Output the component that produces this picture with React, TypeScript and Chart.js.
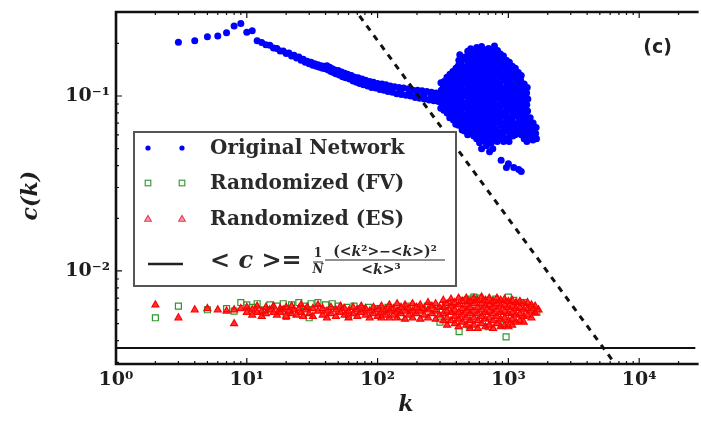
import React, { useEffect, useRef } from 'react';
import { Chart, registerables } from 'chart.js';

Chart.register(...registerables);

// ---------- axis ranges & labels ----------
const X_MIN = 1;
const X_MAX = 27000;
const Y_MIN = 0.00294;
const Y_MAX = 0.302;
const xTickValues = [1, 10, 100, 1000, 10000];
const yTickValues = [0.01, 0.1];
const xTitle = 'k';
const yTitle = 'c(k)  ';
const panelLabel = '(c)';
const legendLabels = ['Original Network', 'Randomized (FV)', 'Randomized (ES)'];

// ---------- reference lines ----------
const meanClustering = 0.00363;
const meanLineK = [1, 27000];
const guideK = [50, 8000];
const guideC = [0.42, 0.0024];

// ---------- Original network c(k) ----------
const originalLowK: [number, number][] = [
  [3, 0.203], [4, 0.207], [5, 0.218], [6, 0.220], [7, 0.230], [8, 0.251], [9, 0.260], [10, 0.231], [11, 0.236], [12, 0.207],
  [13, 0.202], [14, 0.196], [15, 0.195], [16, 0.188], [17, 0.187], [18, 0.181], [19, 0.181], [20, 0.175], [21, 0.176],
  [22, 0.169], [23, 0.171], [24, 0.165], [25, 0.167], [26, 0.160], [27, 0.162], [28, 0.156], [29, 0.158], [30, 0.153],
  [31, 0.156], [32, 0.150], [33, 0.153], [34, 0.148], [35, 0.151], [36, 0.146], [37, 0.149], [38, 0.144], [39, 0.148],
  [40, 0.143], [41, 0.149], [42, 0.141], [43, 0.146], [44, 0.138], [45, 0.143], [46, 0.136], [47, 0.141], [48, 0.134],
  [50, 0.140], [51, 0.132], [53, 0.137], [54, 0.129], [56, 0.135], [57, 0.127], [59, 0.133], [61, 0.125], [63, 0.131],
  [65, 0.122], [67, 0.128], [69, 0.120], [71, 0.127], [73, 0.118], [76, 0.125], [78, 0.116], [81, 0.123], [84, 0.114],
  [87, 0.121], [90, 0.112], [93, 0.120], [97, 0.111], [100, 0.118], [60, 0.129], [70, 0.123], [80, 0.119], [90, 0.116],
  [104, 0.109], [108, 0.117], [112, 0.108], [116, 0.116], [120, 0.106], [125, 0.114], [130, 0.105], [135, 0.113],
  [140, 0.103], [146, 0.112], [152, 0.102], [158, 0.111], [165, 0.101], [172, 0.110], [179, 0.100], [186, 0.108],
  [194, 0.098], [202, 0.108], [210, 0.097], [219, 0.107], [228, 0.096], [238, 0.106], [248, 0.095], [258, 0.105],
  [269, 0.094], [280, 0.104], [292, 0.093], [300, 0.103], [110, 0.112], [128, 0.109], [150, 0.106], [175, 0.104],
  [200, 0.102], [225, 0.101], [255, 0.100], [285, 0.098],
];

const originalHighK: [number, number][] = [
  [305, 0.119], [307, 0.108], [303, 0.099], [306, 0.092], [304, 0.085],
  [339, 0.128], [336, 0.116], [341, 0.110], [338, 0.100], [342, 0.093], [337, 0.086], [340, 0.080],
  [376, 0.138], [372, 0.126], [379, 0.118], [374, 0.107], [378, 0.101], [373, 0.092], [377, 0.085], [375, 0.079], [380, 0.073],
  [425, 0.172], [418, 0.160], [414, 0.149], [420, 0.136], [416, 0.128], [422, 0.116], [417, 0.109], [419, 0.099], [415, 0.093],
  [421, 0.084], [418, 0.079], [423, 0.072], [416, 0.068],
  [464, 0.162], [460, 0.147], [467, 0.138], [462, 0.126], [468, 0.118], [459, 0.107], [465, 0.101], [461, 0.091], [466, 0.086],
  [463, 0.078], [469, 0.073], [460, 0.067], [464, 0.063],
  [515, 0.186], [511, 0.175], [518, 0.160], [513, 0.150], [519, 0.136], [510, 0.128], [516, 0.116], [512, 0.109], [517, 0.099],
  [514, 0.093], [520, 0.085], [511, 0.079], [515, 0.072], [518, 0.068], [513, 0.061],
  [572, 0.189], [566, 0.173], [575, 0.162], [569, 0.147], [577, 0.138], [568, 0.125], [574, 0.118], [570, 0.107], [576, 0.101],
  [567, 0.091], [573, 0.086], [571, 0.078], [578, 0.073], [569, 0.066], [574, 0.062], [572, 0.057],
  [624, 0.192], [635, 0.176], [630, 0.160], [640, 0.149], [632, 0.136], [638, 0.127], [629, 0.116], [636, 0.109], [641, 0.099],
  [633, 0.092], [628, 0.084], [639, 0.080], [634, 0.072], [631, 0.068], [637, 0.061], [630, 0.058], [624, 0.050],
  [705, 0.187], [698, 0.173], [710, 0.162], [702, 0.148], [712, 0.138], [699, 0.126], [707, 0.117], [703, 0.107], [711, 0.100],
  [700, 0.093], [708, 0.085], [704, 0.078], [713, 0.073], [701, 0.067], [709, 0.063], [706, 0.056], [718, 0.048],
  [783, 0.193], [776, 0.175], [789, 0.160], [780, 0.150], [791, 0.137], [778, 0.127], [786, 0.118], [781, 0.108], [788, 0.099],
  [777, 0.092], [785, 0.086], [782, 0.079], [790, 0.072], [779, 0.067], [787, 0.062], [784, 0.057],
  [869, 0.174], [861, 0.162], [875, 0.148], [865, 0.136], [878, 0.128], [863, 0.117], [872, 0.107], [867, 0.100], [876, 0.093],
  [862, 0.085], [871, 0.078], [866, 0.073], [874, 0.068], [864, 0.062], [870, 0.058],
  [966, 0.160], [958, 0.149], [972, 0.137], [961, 0.126], [975, 0.118], [960, 0.108], [969, 0.099], [963, 0.092], [973, 0.086],
  [959, 0.079], [968, 0.072], [964, 0.067], [971, 0.063], [962, 0.057],
  [1072, 0.148], [1064, 0.137], [1080, 0.127], [1068, 0.116], [1083, 0.109], [1066, 0.100], [1077, 0.093], [1070, 0.085],
  [1081, 0.079], [1065, 0.073], [1075, 0.067], [1069, 0.062], [1079, 0.059],
  [1191, 0.136], [1180, 0.126], [1198, 0.117], [1185, 0.107], [1202, 0.100], [1183, 0.092], [1195, 0.085], [1188, 0.078],
  [1200, 0.072], [1182, 0.068], [1193, 0.061],
  [1322, 0.117], [1310, 0.108], [1330, 0.099], [1315, 0.093], [1334, 0.084], [1312, 0.079], [1326, 0.072], [1318, 0.066],
  [1329, 0.062], [1320, 0.057],
  [1468, 0.075], [1455, 0.068], [1476, 0.062], [1460, 0.058],
  [1630, 0.066], [1615, 0.061], [1640, 0.057],
  [880, 0.043], [966, 0.039], [1000, 0.041], [1100, 0.039], [1200, 0.038], [1254, 0.037], [760, 0.050], [680, 0.052],
  // interleaved cloud
  [322, 0.121], [318, 0.113], [326, 0.103], [320, 0.097], [324, 0.088], [321, 0.083],
  [357, 0.133], [352, 0.121], [361, 0.113], [355, 0.103], [359, 0.097], [354, 0.088], [360, 0.083], [356, 0.075],
  [397, 0.144], [391, 0.131], [402, 0.123], [394, 0.111], [400, 0.105], [393, 0.095], [399, 0.090], [395, 0.081],
  [401, 0.077], [396, 0.069],
  [440, 0.167], [434, 0.156], [446, 0.142], [437, 0.133], [444, 0.121], [436, 0.113], [442, 0.103], [438, 0.097],
  [445, 0.088], [435, 0.083], [441, 0.075], [439, 0.071], [443, 0.064],
  [489, 0.180], [483, 0.169], [494, 0.154], [486, 0.144], [492, 0.131], [481, 0.123], [490, 0.111], [485, 0.105],
  [495, 0.096], [484, 0.089], [491, 0.081], [487, 0.077], [493, 0.069], [482, 0.065], [488, 0.060],
  [543, 0.182], [537, 0.167], [549, 0.156], [540, 0.142], [547, 0.133], [535, 0.121], [545, 0.113], [539, 0.103],
  [550, 0.097], [536, 0.088], [546, 0.083], [541, 0.075], [548, 0.071], [538, 0.064], [544, 0.059],
  [603, 0.180], [596, 0.169], [610, 0.154], [599, 0.144], [607, 0.131], [595, 0.123], [605, 0.111], [600, 0.105],
  [611, 0.096], [597, 0.089], [606, 0.081], [601, 0.077], [609, 0.069], [598, 0.065], [604, 0.060], [602, 0.054],
  [669, 0.183], [661, 0.167], [676, 0.156], [665, 0.142], [673, 0.133], [660, 0.121], [671, 0.113], [666, 0.103],
  [678, 0.097], [662, 0.088], [672, 0.083], [667, 0.075], [675, 0.071], [663, 0.064], [670, 0.059], [668, 0.055],
  [743, 0.180], [734, 0.169], [751, 0.154], [738, 0.144], [748, 0.131], [733, 0.123], [745, 0.111], [740, 0.105],
  [752, 0.096], [736, 0.089], [746, 0.081], [741, 0.077], [749, 0.069], [735, 0.065], [744, 0.060], [739, 0.054],
  [826, 0.182], [817, 0.167], [835, 0.156], [821, 0.142], [832, 0.133], [815, 0.121], [829, 0.113], [823, 0.103],
  [836, 0.097], [818, 0.088], [830, 0.083], [824, 0.075], [833, 0.071], [816, 0.064], [827, 0.059], [822, 0.055],
  [917, 0.169], [906, 0.154], [927, 0.144], [911, 0.131], [923, 0.123], [904, 0.111], [920, 0.105], [913, 0.096],
  [928, 0.089], [907, 0.081], [921, 0.077], [914, 0.069], [925, 0.065], [909, 0.060], [918, 0.055],
  [1018, 0.156], [1006, 0.142], [1030, 0.133], [1010, 0.121], [1026, 0.113], [1004, 0.103], [1022, 0.097], [1013, 0.088],
  [1028, 0.083], [1008, 0.075], [1024, 0.071], [1015, 0.064], [1027, 0.059], [1011, 0.055],
  [1130, 0.144], [1117, 0.131], [1143, 0.123], [1122, 0.111], [1139, 0.105], [1119, 0.096], [1135, 0.089], [1125, 0.081],
  [1141, 0.077], [1120, 0.069], [1133, 0.065], [1127, 0.060],
  [1254, 0.131], [1240, 0.123], [1268, 0.111], [1245, 0.105], [1262, 0.096], [1242, 0.089], [1258, 0.081], [1248, 0.077],
  [1265, 0.069], [1244, 0.065], [1256, 0.060],
  [1393, 0.112], [1378, 0.104], [1408, 0.096], [1383, 0.089], [1402, 0.082], [1380, 0.076], [1398, 0.070], [1388, 0.065],
  [1405, 0.060], [1385, 0.055],
  [1546, 0.070], [1530, 0.065], [1560, 0.060], [1538, 0.056],
];

// ---------- Randomized (FV) ----------
const randomizedFV: [number, number][] = [
  [2, 0.0054], [3, 0.0063], [5, 0.0060], [7, 0.0061], [8, 0.0059], [9, 0.0066], [10, 0.0064], [11, 0.0062], [12, 0.0065],
  [14, 0.0060], [15, 0.0064], [17, 0.0063], [19, 0.0065], [22, 0.0064], [25, 0.0066], [28, 0.0063], [31, 0.0065], [35, 0.0066],
  [40, 0.0064], [45, 0.0065], [50, 0.0063], [58, 0.0062], [66, 0.0063], [75, 0.0061], [85, 0.0062], [100, 0.0061],
  [120, 0.0062], [140, 0.0061], [170, 0.0063], [200, 0.0062], [240, 0.0063], [280, 0.0061], [330, 0.0064], [380, 0.0066],
  [420, 0.0045], [460, 0.0068], [520, 0.0069], [545, 0.0071], [600, 0.0070], [700, 0.0068], [800, 0.0069], [960, 0.0042],
  [1000, 0.0071], [1100, 0.0068], [1300, 0.0066], [1500, 0.0062], [1650, 0.0058], [20, 0.0055], [30, 0.0054], [60, 0.0055],
  [150, 0.0055], [300, 0.0051], [500, 0.0049], [700, 0.0048], [900, 0.0049],
];

// ---------- Randomized (ES) ----------
const randomizedES: [number, number][] = [
  [2, 0.0064], [3, 0.0054], [4, 0.0060], [5, 0.0061], [6, 0.0060], [7, 0.0059], [8, 0.0050], [8, 0.0060], [9, 0.0061],
  [10, 0.0058], [10, 0.0062], [11, 0.0060], [11, 0.0056], [12, 0.0063], [12, 0.0058], [13, 0.0059], [13, 0.0055],
  [14, 0.0062], [14, 0.0057], [15, 0.0060], [16, 0.0058], [16, 0.0063], [17, 0.0056], [18, 0.0061], [18, 0.0058],
  [19, 0.0060], [20, 0.0055], [20, 0.0062], [21, 0.0059], [22, 0.0057], [22, 0.0063], [23, 0.0060], [24, 0.0056],
  [25, 0.0061], [26, 0.0058], [26, 0.0064], [27, 0.0055], [28, 0.0060], [29, 0.0062], [30, 0.0057],
  [32, 0.0061], [32, 0.0055], [35, 0.0059], [35, 0.0064], [38, 0.0056], [38, 0.0061], [41, 0.0059], [41, 0.0054],
  [44, 0.0062], [44, 0.0057], [48, 0.0060], [48, 0.0055], [52, 0.0063], [52, 0.0058], [56, 0.0056], [56, 0.0061],
  [60, 0.0059], [60, 0.0054], [65, 0.0062], [65, 0.0057], [70, 0.0060], [70, 0.0055], [75, 0.0063], [75, 0.0058],
  [81, 0.0056], [81, 0.0061], [87, 0.0059], [87, 0.0054], [93, 0.0062], [93, 0.0057], [100, 0.0060], [100, 0.0055],
  [107, 0.0063], [107, 0.0058], [107, 0.0054], [115, 0.0060], [115, 0.0056], [123, 0.0064], [123, 0.0059], [123, 0.0054],
  [132, 0.0061], [132, 0.0056], [141, 0.0065], [141, 0.0059], [141, 0.0054], [151, 0.0062], [151, 0.0057],
  [162, 0.0064], [162, 0.0059], [162, 0.0053], [173, 0.0061], [173, 0.0056], [185, 0.0065], [185, 0.0059], [185, 0.0054],
  [198, 0.0062], [198, 0.0057], [212, 0.0064], [212, 0.0059], [212, 0.0053], [227, 0.0061], [227, 0.0056],
  [243, 0.0066], [243, 0.0060], [243, 0.0054], [260, 0.0063], [260, 0.0057], [278, 0.0065], [278, 0.0059], [278, 0.0053],
  [297, 0.0062], [297, 0.0056],
  [318, 0.0068], [318, 0.0062], [318, 0.0057], [318, 0.0052],
  [340, 0.0065], [340, 0.0059], [340, 0.0054], [340, 0.0049],
  [364, 0.0069], [364, 0.0063], [364, 0.0058], [364, 0.0052],
  [389, 0.0066], [389, 0.0060], [389, 0.0055], [389, 0.0050],
  [416, 0.0070], [416, 0.0064], [416, 0.0058], [416, 0.0053], [416, 0.0048],
  [445, 0.0067], [445, 0.0061], [445, 0.0056], [445, 0.0051],
  [476, 0.0070], [476, 0.0064], [476, 0.0059], [476, 0.0054], [476, 0.0049],
  [509, 0.0067], [509, 0.0062], [509, 0.0057], [509, 0.0052], [509, 0.0047],
  [545, 0.0070], [545, 0.0065], [545, 0.0059], [545, 0.0054], [545, 0.0049],
  [583, 0.0068], [583, 0.0062], [583, 0.0057], [583, 0.0052], [583, 0.0047],
  [624, 0.0071], [624, 0.0065], [624, 0.0060], [624, 0.0055], [624, 0.0050],
  [667, 0.0068], [667, 0.0063], [667, 0.0058], [667, 0.0053], [667, 0.0048],
  [714, 0.0070], [714, 0.0064], [714, 0.0059], [714, 0.0054], [714, 0.0049],
  [764, 0.0067], [764, 0.0062], [764, 0.0057], [764, 0.0052], [764, 0.0047],
  [817, 0.0070], [817, 0.0065], [817, 0.0060], [817, 0.0055], [817, 0.0050],
  [874, 0.0068], [874, 0.0063], [874, 0.0058], [874, 0.0053], [874, 0.0048],
  [935, 0.0069], [935, 0.0064], [935, 0.0059], [935, 0.0054], [935, 0.0049],
  [1000, 0.0067], [1000, 0.0062], [1000, 0.0057], [1000, 0.0052], [1000, 0.0048],
  [1070, 0.0068], [1070, 0.0063], [1070, 0.0058], [1070, 0.0053], [1070, 0.0049],
  [1145, 0.0066], [1145, 0.0061], [1145, 0.0056], [1145, 0.0051],
  [1225, 0.0067], [1225, 0.0062], [1225, 0.0057], [1225, 0.0052],
  [1310, 0.0065], [1310, 0.0060], [1310, 0.0055], [1310, 0.0051],
  [1400, 0.0066], [1400, 0.0061], [1400, 0.0056],
  [1500, 0.0064], [1500, 0.0059], [1500, 0.0054],
  [1600, 0.0063], [1600, 0.0058], [1700, 0.0060],
];

// ---------- styling ----------
const BLUE = '#0000ff';
const GREEN = 'rgb(45,150,45)';
const RED = '#ff0000';
const INK = '#1e1e1e';
const SERIF = '"DejaVu Serif", serif';

const SUP: Record<string, string> = { '-': '\u207B', '0': '\u2070', '1': '\u00B9', '2': '\u00B2', '3': '\u00B3', '4': '\u2074' };
const pow10Label = (v: number) => {
  const e = Math.round(Math.log10(v));
  return '10' + String(e).split('').map((ch) => SUP[ch] ?? ch).join('');
};

type Seg = [string, string];
function drawSegs(ctx: CanvasRenderingContext2D, segs: Seg[], x: number, y: number, align: 'left' | 'center') {
  let total = 0;
  const widths = segs.map(([t, f]) => {
    ctx.font = f;
    const w = ctx.measureText(t).width;
    total += w;
    return w;
  });
  let cx = align === 'center' ? x - total / 2 : x;
  ctx.textAlign = 'left';
  ctx.textBaseline = 'middle';
  segs.forEach(([t, f], i) => {
    ctx.font = f;
    ctx.fillText(t, cx, y);
    cx += widths[i];
  });
}

const decorPlugin = {
  id: 'decor',
  afterDatasetsDraw(chart: any) {
    const { ctx, chartArea, scales } = chart;
    const { left, right, top, bottom } = chartArea;
    const xs = scales.x;
    const ys = scales.y;
    ctx.save();

    // spines
    ctx.strokeStyle = '#111';
    ctx.lineWidth = 2.6;
    ctx.beginPath();
    ctx.moveTo(right + 3, top);
    ctx.lineTo(left, top);
    ctx.lineTo(left, bottom);
    ctx.lineTo(right + 3, bottom);
    ctx.stroke();

    // inward ticks
    ctx.lineWidth = 1.2;
    ctx.beginPath();
    for (let d = 0; d <= 4; d++) {
      for (let m = 1; m <= 9; m++) {
        const v = m * Math.pow(10, d);
        if (v > X_MAX) break;
        const px = xs.getPixelForValue(v);
        const len = m === 1 ? 6 : 3;
        ctx.moveTo(px, top);
        ctx.lineTo(px, top + len);
        ctx.moveTo(px, bottom);
        ctx.lineTo(px, bottom - len);
      }
    }
    for (let d = -3; d <= -1; d++) {
      for (let m = 1; m <= 9; m++) {
        const v = m * Math.pow(10, d);
        if (v < Y_MIN || v > Y_MAX) continue;
        const py = ys.getPixelForValue(v);
        const len = m === 1 ? 6 : 3;
        ctx.moveTo(left, py);
        ctx.lineTo(left + len, py);
      }
    }
    ctx.stroke();

    // legend
    const bx = left + 18;
    const by = top + 120;
    const bw = 322;
    const bh = 154;
    ctx.fillStyle = '#fff';
    ctx.fillRect(bx, by, bw, bh);
    ctx.strokeStyle = '#555';
    ctx.lineWidth = 2;
    ctx.strokeRect(bx, by, bw, bh);

    const rowY = [by + 16, by + 51, by + 87];
    const mX = [bx + 14, bx + 48];
    const textX = bx + 76;
    mX.forEach((mx) => {
      ctx.fillStyle = BLUE;
      ctx.beginPath();
      ctx.arc(mx, rowY[0], 2.6, 0, Math.PI * 2);
      ctx.fill();
      ctx.strokeStyle = GREEN;
      ctx.lineWidth = 1.1;
      ctx.strokeRect(mx - 2.8, rowY[1] - 2.8, 5.6, 5.6);
      ctx.fillStyle = 'rgba(240,90,110,0.55)';
      ctx.strokeStyle = 'rgba(230,40,60,0.9)';
      ctx.beginPath();
      ctx.moveTo(mx, rowY[2] - 3.6);
      ctx.lineTo(mx + 3.3, rowY[2] + 2.2);
      ctx.lineTo(mx - 3.3, rowY[2] + 2.2);
      ctx.closePath();
      ctx.fill();
      ctx.stroke();
    });
    ctx.fillStyle = '#2a2a2a';
    ctx.textAlign = 'left';
    ctx.textBaseline = 'middle';
    ctx.font = `bold 20px ${SERIF}`;
    legendLabels.forEach((lab, i) => ctx.fillText(lab, textX, rowY[i] + 1));

    // formula row
    const fy = by + 130;
    ctx.strokeStyle = '#222';
    ctx.lineWidth = 2.6;
    ctx.beginPath();
    ctx.moveTo(bx + 14, fy + 2);
    ctx.lineTo(bx + 49, fy + 2);
    ctx.stroke();

    ctx.fillStyle = '#2a2a2a';
    const B24 = `bold 24px ${SERIF}`;
    const BI24 = `bold italic 24px ${SERIF}`;
    drawSegs(ctx, [['<', B24], [' ', B24], ['c', BI24], [' ', B24], ['>=', B24]], textX, fy, 'left');
    const B12 = `bold 12px ${SERIF}`;
    const BI12 = `bold italic 12px ${SERIF}`;
    drawSegs(ctx, [['1', B12]], bx + 184, fy - 8, 'center');
    drawSegs(ctx, [['N', BI12]], bx + 184, fy + 8, 'center');
    ctx.lineWidth = 1;
    ctx.beginPath();
    ctx.moveTo(bx + 179, fy);
    ctx.lineTo(bx + 189, fy);
    ctx.stroke();
    const B14 = `bold 14px ${SERIF}`;
    const BI14 = `bold italic 14px ${SERIF}`;
    drawSegs(ctx, [['(<', B14], ['k', BI14], ['\u00B2>\u2212<', B14], ['k', BI14], ['>)\u00B2', B14]], bx + 251, fy - 10, 'center');
    ctx.lineWidth = 1.2;
    ctx.beginPath();
    ctx.moveTo(bx + 191, fy - 2);
    ctx.lineTo(bx + 311, fy - 2);
    ctx.stroke();
    drawSegs(ctx, [['<', B14], ['k', BI14], ['>\u00B3', B14]], bx + 247, fy + 8, 'center');

    // panel label
    ctx.fillStyle = '#222';
    ctx.font = 'bold 19px "DejaVu Sans", sans-serif';
    ctx.textAlign = 'center';
    ctx.textBaseline = 'middle';
    ctx.fillText(panelLabel, right - 38, top + 36);

    ctx.restore();
  },
};

const toPoints = (arr: [number, number][]) => arr.map(([x, y]) => ({ x, y }));

export default function App() {
  const ref = useRef<HTMLCanvasElement>(null);

  useEffect(() => {
    const canvas = ref.current;
    if (!canvas) return;
    const tickFont = { family: SERIF, size: 19, weight: 'bold' as const };
    const titleFont = { family: SERIF, size: 22, weight: 'bold' as const, style: 'italic' as const };
    const chart = new Chart(canvas, {
      type: 'scatter',
      data: {
        datasets: [
          {
            label: 'guide',
            data: guideK.map((k, i) => ({ x: k, y: guideC[i] })),
            showLine: true,
            borderColor: '#111',
            borderWidth: 3,
            borderDash: [6, 6],
            pointRadius: 0,
            order: 0,
          },
          {
            label: '<c>',
            data: meanLineK.map((k) => ({ x: k, y: meanClustering })),
            showLine: true,
            borderColor: '#111',
            borderWidth: 2,
            pointRadius: 0,
            order: 1,
          },
          {
            label: legendLabels[2],
            data: toPoints(randomizedES),
            pointStyle: 'triangle',
            pointRadius: 4,
            backgroundColor: 'rgba(255,0,0,0.8)',
            borderColor: RED,
            borderWidth: 1.2,
            order: 2,
          },
          {
            label: legendLabels[1],
            data: toPoints(randomizedFV),
            pointStyle: 'rect',
            pointRadius: 4.2,
            backgroundColor: 'rgba(255,255,255,0)',
            borderColor: GREEN,
            borderWidth: 1.2,
            order: 3,
          },
          {
            label: legendLabels[0],
            data: toPoints([...originalLowK, ...originalHighK]),
            pointStyle: 'circle',
            pointRadius: 3.5,
            backgroundColor: BLUE,
            borderColor: BLUE,
            borderWidth: 0,
            order: 4,
          },
        ],
      },
      options: {
        animation: false,
        responsive: false,
        devicePixelRatio: 1,
        events: [],
        layout: { padding: { top: 12, left: 0, right: 0, bottom: 0 } },
        plugins: { legend: { display: false }, tooltip: { enabled: false } },
        scales: {
          x: {
            type: 'logarithmic',
            position: 'bottom',
            min: X_MIN,
            max: X_MAX,
            bounds: 'data',
            grid: { display: false, drawTicks: true, tickLength: 5 },
            border: { display: false },
            afterBuildTicks: (s: any) => {
              s.ticks = xTickValues.map((v) => ({ value: v }));
            },
            afterFit: (s: any) => {
              s.height = 57;
            },
            ticks: {
              autoSkip: false,
              maxRotation: 0,
              padding: 0,
              color: INK,
              font: tickFont,
              callback: (v: any) => pow10Label(Number(v)),
            },
            title: { display: true, text: xTitle, color: INK, font: titleFont, padding: { top: 0, bottom: 3 } },
          },
          y: {
            type: 'logarithmic',
            position: 'left',
            min: Y_MIN,
            max: Y_MAX,
            bounds: 'data',
            grid: { display: false, drawTicks: true, tickLength: 6 },
            border: { display: false },
            afterBuildTicks: (s: any) => {
              s.ticks = yTickValues.map((v) => ({ value: v }));
            },
            afterFit: (s: any) => {
              s.width = 116;
            },
            ticks: {
              autoSkip: false,
              padding: 0,
              color: INK,
              font: tickFont,
              callback: (v: any) => pow10Label(Number(v)),
            },
            title: { display: true, text: yTitle, color: INK, font: titleFont, padding: { top: 18, bottom: 0 } },
          },
        },
      },
      plugins: [decorPlugin],
    } as any);
    return () => chart.destroy();
  }, []);

  return (
    <div style={{ position: 'absolute', left: 0, top: 0, width: 701, height: 421, background: '#fff' }}>
      <canvas ref={ref} width={701} height={421} style={{ display: 'block', width: 701, height: 421 }} />
    </div>
  );
}
